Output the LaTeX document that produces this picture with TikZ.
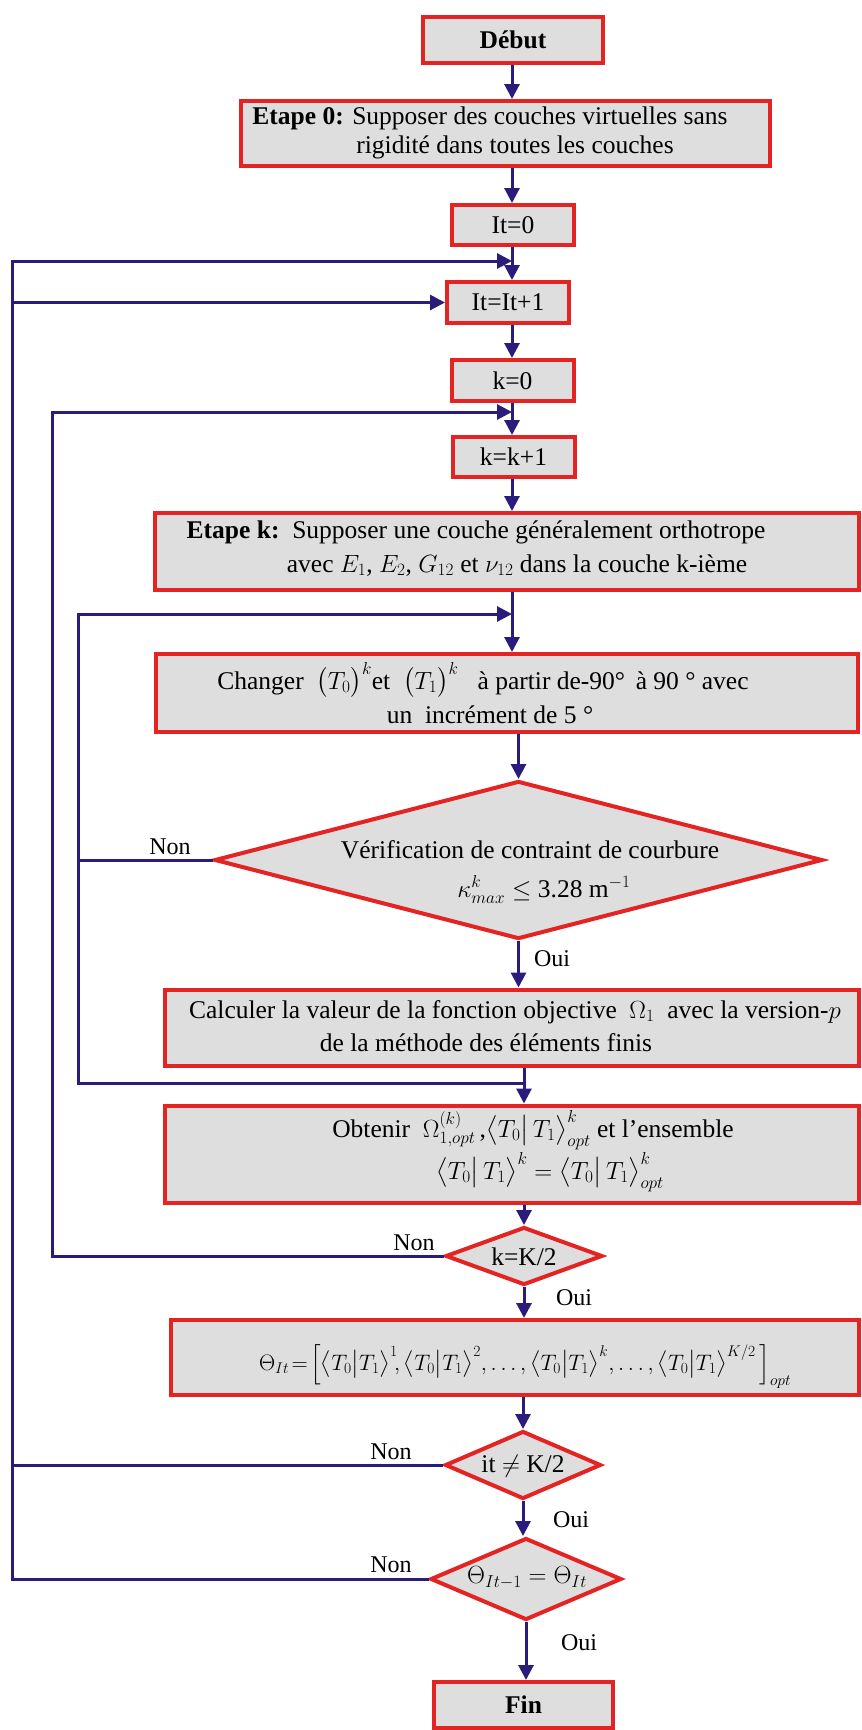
\documentclass[tikz,border=0pt]{standalone}
\usepackage{exscale}
\usepackage{graphicx}
\usepackage{fontspec}
\setmainfont{Liberation Serif}
\usetikzlibrary{arrows.meta,shapes.geometric}
\definecolor{navy}{RGB}{42,28,122}
\definecolor{bred}{RGB}{228,35,35}
\definecolor{bfill}{RGB}{222,222,222}
\newcommand{\tzTT}{\big\langle T_0\big|\,T_1\big\rangle}
\newcommand{\tzTTs}{\big\langle T_0\big|T_1\big\rangle}
\begin{document}
\begin{tikzpicture}[x=1pt,y=-1pt,
  box/.style={draw=bred, line width=4pt, fill=bfill, inner sep=0pt, font=\fontsize{25.5}{30}\selectfont},
  dia/.style={diamond, draw=bred, line width=4pt, fill=bfill, inner sep=0pt},
  txt/.style={font=\fontsize{25.5}{30}\selectfont, inner sep=0pt},
  arr/.style={draw=navy, line width=3pt, -{Triangle[length=15pt,width=15pt]}},
  ln/.style={draw=navy, line width=3pt},
  lab/.style={font=\fontsize{24}{29}\selectfont, inner sep=0pt}
]
\useasboundingbox (0,0) rectangle (862,1730);
\coordinate (ax) at (512,0);
\coordinate (bx) at (524,0);
\coordinate (L1) at (12,0);
\coordinate (L2) at (52,0);
\coordinate (L3) at (78,0);
\coordinate (m1) at (512,261);
\coordinate (m2) at (512,412);
\coordinate (m3) at (512,614);
\coordinate (m4) at (524,1083);

% boxes
\node[box, minimum width=180, minimum height=46] (deb) at (513,40) {\textbf{Début}};
\node[box, minimum width=529, minimum height=65] (e0) at (505.5,133.5) {};
\node[txt, anchor=base] (e0a) at (490,124) {\textbf{Etape 0:} Supposer des couches virtuelles sans};
\node[txt, anchor=base] (e0b) at (515,153) {rigidité dans toutes les couches};
\node[box, minimum width=122, minimum height=40] (it0) at (513,225) {It=0};
\node[box, minimum width=122, minimum height=41] (itp) at (508,302.5) {It=It+1};
\node[box, minimum width=122, minimum height=41] (k0) at (512.5,380.5) {k=0};
\node[box, minimum width=122, minimum height=40] (kp) at (513.5,457) {k=k+1};
\node[box, minimum width=704, minimum height=77] (ek) at (507,551.5) {};
\node[txt, anchor=base] (eka) at (476,538) {\textbf{Etape k:}\enspace Supposer une couche généralement orthotrope};
\node[txt, anchor=base] (ekb) at (517,572) {avec $E_1$, $E_2$, $G_{12}$ et $\nu_{12}$ dans la couche k-ième};
\node[box, minimum width=702, minimum height=78] (chg) at (507,693) {};
\node[txt, anchor=base] (chga) at (483,689) {Changer \ $\big(T_0\big)^k$et \ $\big(T_1\big)^k$ \ \ à partir de-90° \,à 90 ° avec};
\node[txt, anchor=base] (chgb) at (490,723) {un \ incrément de 5 °};
\node[dia, minimum width=608, minimum height=158] (d1) at (518.5,860) {};
\node[txt, anchor=base] (d1a) at (530,858) {Vérification de contraint de courbure};
\node[txt, anchor=base] (d1b) at (544,897) {$\kappa^k_{max}\leq$ 3.28 m$^{-1}$};
\node[box, minimum width=694, minimum height=76] (calc) at (512,1027.5) {};
\node[txt, anchor=base] (calca) at (515,1018) {Calculer la valeur de la fonction objective \ $\Omega_1$ \ avec la version-$p$};
\node[txt, anchor=base] (calcb) at (486,1051) {de la méthode des éléments finis};
\node[box, minimum width=694, minimum height=97] (obt) at (512,1154) {};
\node[txt, anchor=base] (obta) at (533,1137) {Obtenir \ $\Omega^{(k)}_{1,opt}$\,,$\tzTT^k_{opt}$ et l’ensemble};
\node[txt, anchor=base] (obtb) at (550,1179) {$\tzTT^k = \tzTT^k_{opt}$};
\node[dia, minimum width=157, minimum height=58] (d2) at (524,1256) {};
\node[txt] (d2t) at (524,1257) {k=K/2};
\node[box, minimum width=688, minimum height=75] (th) at (515,1357.5) {};
\node[txt, anchor=base, font=\fontsize{24}{29}\selectfont] (tht) at (525,1370) {\scalebox{0.9}{$\Theta_{It}\!=\!\Big[\tzTTs^{1}\!,\tzTTs^{2}, \ldots, \tzTTs^{k}, \ldots, \tzTTs^{K/2}\,\Big]_{opt}$}};
\node[dia, minimum width=156, minimum height=68] (d3) at (523,1465) {};
\node[txt] (d3t) at (523,1466) {it $\neq$ K/2};
\node[dia, minimum width=191, minimum height=82] (d4) at (526,1579) {};
\node[txt] (d4t) at (527,1578) {$\Theta_{It-1} = \Theta_{It}$};
\node[box, minimum width=179, minimum height=46] (fin) at (523.5,1705) {\textbf{Fin}};

% main arrows
\draw[arr] (deb.south -| ax) -- (e0.north -| ax);
\draw[arr] (e0.south -| ax) -- (it0.north -| ax);
\draw[arr] (it0.south -| ax) -- (itp.north -| ax);
\draw[arr] (itp.south -| ax) -- (k0.north -| ax);
\draw[arr] (k0.south -| ax) -- (kp.north -| ax);
\draw[arr] (kp.south -| ax) -- (ek.north -| ax);
\draw[arr] (ek.south -| ax) -- (chg.north -| ax);
\draw[arr] (chg.south -| d1.north) -- (d1.north);
\draw[arr] (d1.south) -- (d1.south |- calc.north);
\draw[arr] (calc.south -| bx) -- (obt.north -| bx);
\draw[arr] (obt.south -| d2.north) -- (d2.north);
\draw[arr] (d2.south) -- (d2.south |- th.north);
\draw[arr] (th.south -| d3.north) -- (d3.north);
\draw[arr] (d3.south) -- (d3.south |- d4.north);
\draw[arr] (d4.south) -- (d4.south |- fin.north);

% loops
\draw[arr] (d4.west) -- (d4.west -| L1) |- (m1);
\draw[arr] (d3.west) -- (d3.west -| L1) |- (itp.west);
\draw[arr] (d2.west) -- (d2.west -| L2) |- (m2);
\draw[arr] (d1.west) -- (d1.west -| L3) |- (m3);
\draw[ln] (m4) -- (m4 -| L3) -- (d1.west -| L3);

% labels
\node[lab] (n1) at (170,847) {Non};
\node[lab] (n2) at (414,1243) {Non};
\node[lab] (n3) at (391,1452) {Non};
\node[lab] (n4) at (391,1565) {Non};
\node[lab] (o1) at (552,959) {Oui};
\node[lab] (o2) at (574,1298) {Oui};
\node[lab] (o3) at (571,1520) {Oui};
\node[lab] (o4) at (579,1643) {Oui};
\end{tikzpicture}
\end{document}
